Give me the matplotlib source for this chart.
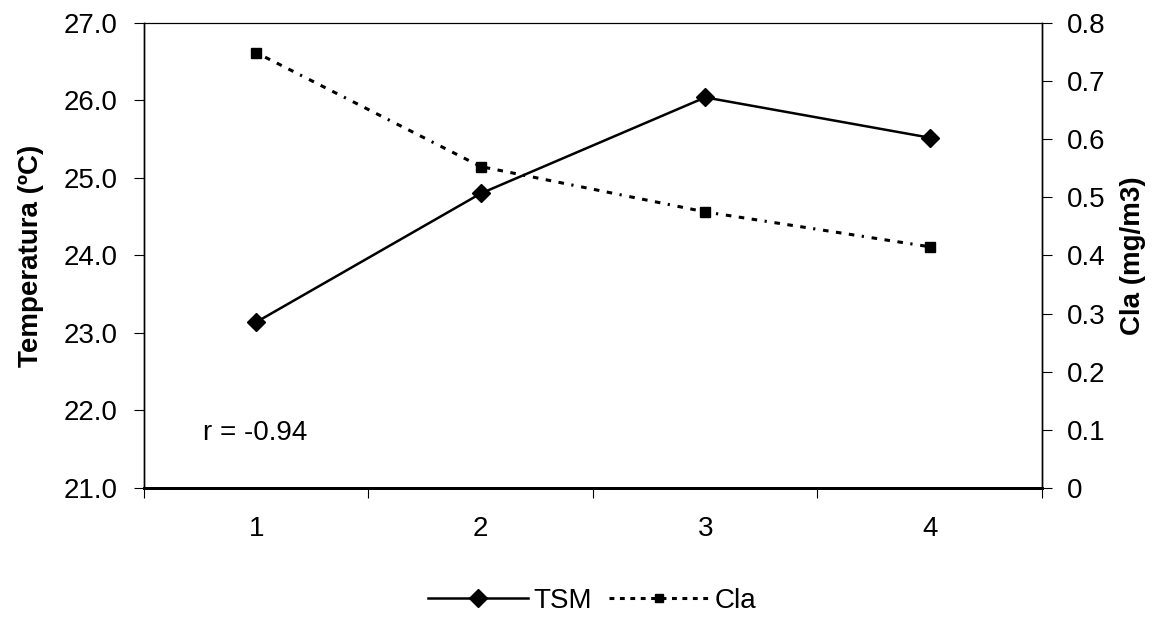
import matplotlib
matplotlib.use("Agg")
import matplotlib.pyplot as plt
from matplotlib.lines import Line2D

plt.rcParams['font.family'] = ['Liberation Sans', 'DejaVu Sans']
plt.rcParams['lines.scale_dashes'] = False

categories = ["1", "2", "3", "4"]
tsm = [23.14, 24.80, 26.04, 25.52]
cla = [0.749, 0.553, 0.475, 0.415]
left_ticks = [21.0, 22.0, 23.0, 24.0, 25.0, 26.0, 27.0]
right_ticks = [0, 0.1, 0.2, 0.3, 0.4, 0.5, 0.6, 0.7, 0.8]

FS = 20
fig = plt.figure(figsize=(11.61, 6.18), dpi=100)
ax = fig.add_axes([0.124, 0.2104, 0.7735, 0.7524])
ax2 = ax.twinx()

x = list(range(1, len(categories) + 1))
cla_ls = (0, (1.6, 5.6, 4.0, 5.4, 4.0, 5.4, 4.0, 5.4))
ax.plot(x, tsm, color='black', lw=1.8, marker='D', ms=9, zorder=3)
ax2.plot(x, cla, color='black', lw=2.2, ls=cla_ls, marker='s', ms=7, zorder=3)

ax.set_xlim(0.5, len(categories) + 0.5)
ax.set_ylim(21.0, 27.0)
ax2.set_ylim(0, 0.8)

ax.set_xticks(x)
ax.set_xticklabels(categories, fontsize=FS)
ax.tick_params(axis='x', which='major', length=0, pad=20)
ax.set_xticks([i + 0.5 for i in range(0, len(categories) + 1)], minor=True)
ax.tick_params(axis='x', which='minor', length=7, width=0.8, direction='out')

ax.set_yticks(left_ticks)
ax.set_yticklabels([f"{v:.1f}" for v in left_ticks], fontsize=FS)
ax.tick_params(axis='y', length=7, width=0.8, direction='out', pad=12)
ax2.set_yticks(right_ticks)
ax2.set_yticklabels(["0"] + [f"{v:.1f}" for v in right_ticks[1:]], fontsize=FS)
ax2.tick_params(axis='y', length=7, width=0.8, direction='out', pad=11)

for a in (ax, ax2):
    a.spines['top'].set_color('black')
    a.spines['top'].set_linewidth(0.8)
    a.spines['left'].set_linewidth(1.0)
    a.spines['right'].set_linewidth(1.0)
    a.spines['bottom'].set_linewidth(2)

ax.set_ylabel("Temperatura (ºC)", fontsize=FS, fontweight='bold', labelpad=14)
ax2.set_ylabel("Cla (mg/m3)", fontsize=FS, fontweight='bold', labelpad=10)

ax.text(0.763, 21.71, "r = -0.94", fontsize=FS, ha='left', va='center')

handles = [
    Line2D([], [], color='black', lw=1.8, marker='D', ms=9),
    Line2D([], [], color='black', lw=2.2, ls=(0, (3.5, 4.0)), marker='s', ms=6),
]
fig.legend(handles, ["TSM", "Cla"], loc='center', bbox_to_anchor=(0.51, 0.028),
           ncol=2, frameon=False, fontsize=FS, handlelength=3.6, handletextpad=0.2,
           columnspacing=0.6, borderpad=0)

fig.savefig("out.png", dpi=100)
